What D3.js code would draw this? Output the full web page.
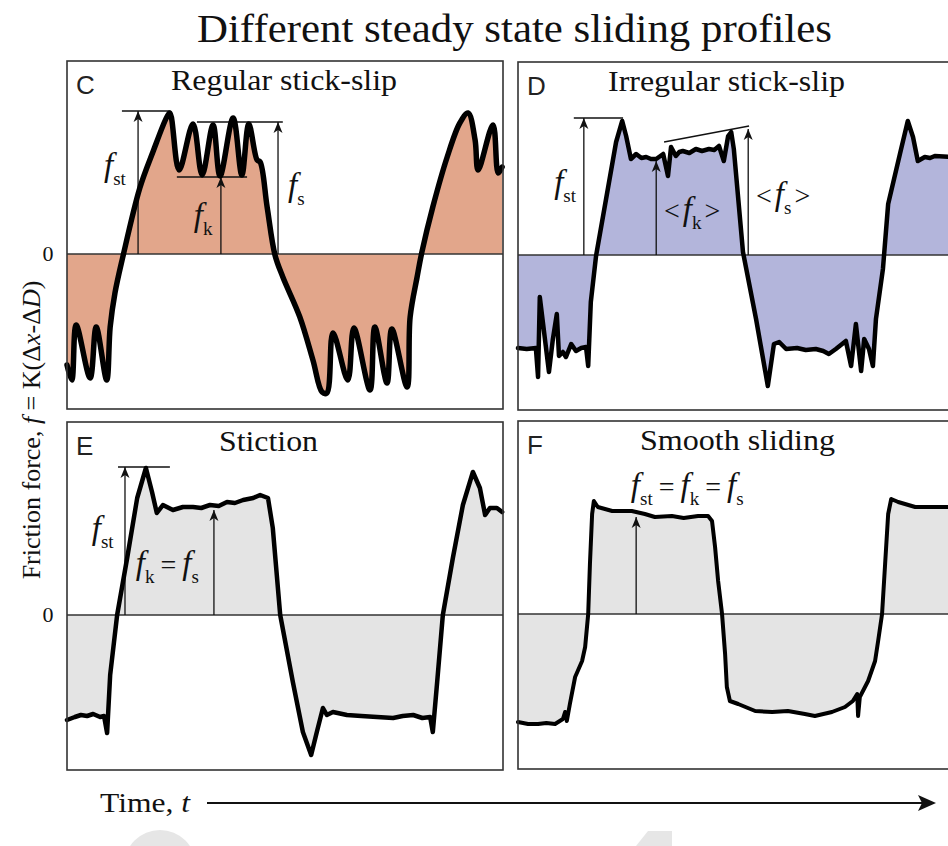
<!DOCTYPE html>
<html>
<head>
<meta charset="utf-8">
<script src="https://cdn.jsdelivr.net/npm/d3@7"></script>
<style>
body{margin:0;background:#fff}
svg{display:block}
</style>
</head>
<body>
<svg id="svg_main" width="948" height="846"></svg>
<script>
// time in arbitrary units (0..10 per panel), force in arbitrary units (0 = zero line)
var tC=[0,0.11,0.21,0.53,0.67,0.91,0.99,1.10,1.28,1.67,1.97,2.29,2.36,2.57,2.89,3.10,3.35,3.51,3.81,4.01,4.17,4.36,4.43,4.59,4.77,4.95,5.34,5.64,5.85,5.96,6.10,6.44,6.58,6.95,7.06,7.34,7.45,7.80,7.87,8.03,8.14,8.39,8.72,9.01,9.20,9.36,9.43,9.77,9.89,9.98]
var fC=[-1.11,-1.26,-0.71,-1.24,-0.73,-1.26,-0.73,-0.39,-0.03,0.66,1.02,1.37,1.41,0.84,1.30,0.79,1.29,0.78,1.36,0.79,1.30,0.94,0.92,0.47,-0.01,-0.23,-0.63,-1.06,-1.38,-1.39,-0.79,-1.26,-0.74,-1.36,-0.73,-1.29,-0.75,-1.33,-0.63,-0.23,0.02,0.47,0.97,1.31,1.41,1.14,0.84,1.29,0.81,0.87]

var tD=[0,0.20,0.41,0.46,0.50,0.71,0.80,0.89,0.94,1.03,1.10,1.22,1.33,1.45,1.56,1.61,1.67,1.79,2.02,2.25,2.39,2.48,2.59,2.71,2.83,2.94,3.05,3.17,3.33,3.39,3.44,3.51,3.62,3.70,3.78,3.93,4.08,4.22,4.38,4.50,4.61,4.72,4.82,4.89,4.95,5.16,5.46,5.73,5.87,5.99,6.15,6.40,6.60,6.83,7.00,7.13,7.29,7.52,7.64,7.75,7.87,7.94,8.05,8.14,8.21,8.37,8.49,8.76,8.94,9.06,9.17,9.33,9.45,9.56,10.0]
var fD=[-0.93,-0.94,-0.93,-1.22,-0.42,-1.17,-0.84,-0.59,-1.01,-0.97,-1.02,-0.89,-0.96,-0.93,-0.92,-1.11,-0.47,-0.01,0.56,1.13,1.34,1.19,0.96,1.01,0.97,0.98,0.96,0.96,1.01,0.89,0.79,1.08,0.99,1.03,1.04,1.02,1.06,1.04,1.06,1.05,1.09,0.94,1.19,1.23,1.06,0.03,-0.64,-1.31,-0.89,-0.87,-0.94,-0.93,-0.95,-0.94,-0.96,-0.99,-0.94,-0.86,-1.11,-0.69,-1.16,-0.84,-0.94,-1.11,-0.64,-0.14,0.51,1.01,1.34,1.18,0.94,0.98,0.97,0.99,0.98]

var tE=[0,0.18,0.32,0.46,0.60,0.76,0.85,0.92,0.99,1.15,1.38,1.61,1.81,1.95,2.06,2.20,2.43,2.66,2.89,3.08,3.28,3.48,3.67,3.85,4.04,4.27,4.43,4.61,4.72,4.89,5.18,5.41,5.60,5.73,5.87,5.96,6.10,6.42,6.75,7.11,7.48,7.70,7.94,8.15,8.33,8.39,8.49,8.62,8.85,9.08,9.31,9.47,9.59,9.70,9.86,9.98]
var fE=[-1.05,-1.02,-1.00,-1.01,-0.99,-1.02,-1.01,-1.18,-0.60,0,0.57,1.17,1.47,1.23,1.02,1.10,1.05,1.08,1.08,1.07,1.10,1.09,1.13,1.12,1.15,1.17,1.20,1.17,0.87,0,-0.67,-1.17,-1.40,-1.17,-0.93,-1.00,-0.97,-1.00,-1.01,-1.02,-1.03,-1.01,-1.00,-1.03,-1.02,-1.17,-0.67,0,0.57,1.10,1.43,1.27,1.00,1.07,1.07,1.03]

var tF=[0,0.23,0.46,0.65,0.85,1.03,1.08,1.12,1.19,1.31,1.47,1.54,1.61,1.65,1.70,1.74,1.83,2.16,2.61,2.91,3.14,3.53,3.80,4.13,4.36,4.45,4.52,4.59,4.68,4.75,4.79,4.86,5.05,5.44,5.83,6.19,6.58,6.81,7.20,7.50,7.68,7.78,7.80,7.84,8.03,8.19,8.26,8.35,8.42,8.49,8.56,8.72,9.11,9.50,10.0]
var fF=[-1.08,-1.10,-1.10,-1.09,-1.10,-1.05,-0.98,-1.07,-0.90,-0.63,-0.47,-0.33,0,0.50,1.00,1.13,1.07,1.03,1.03,1.00,0.97,0.98,0.96,0.98,0.98,0.93,0.67,0.33,0,-0.40,-0.73,-0.87,-0.90,-0.97,-0.98,-0.97,-1.00,-1.02,-0.98,-0.93,-0.87,-0.80,-1.02,-0.83,-0.67,-0.47,-0.27,0,0.50,1.00,1.15,1.12,1.07,1.07,1.07]

// annotation guides [t1,f1,t2,f2] and arrows [t,f] (arrow from 0 up to f)
var guideC=[[1.26,1.43,2.36,1.43],[2.52,0.77,4.13,0.77],[2.98,1.32,4.95,1.32]]
var arrowC=[[1.63,1.43],[3.53,0.77],[4.84,1.32]]
var guideD=[[1.28,1.37,2.41,1.37],[3.35,1.13,5.30,1.29]]
var arrowD=[[1.51,1.37],[3.17,0.94],[5.28,1.26]]
var guideE=[[1.17,1.48,2.36,1.48]]
var arrowE=[[1.33,1.48],[3.37,1.05]]
var guideF=[]
var arrowF=[[2.71,0.97]]

var titles=['Regular stick-slip','Irregular stick-slip','Stiction','Smooth sliding']
var letters=['C','D','E','F']

const serif='"Liberation Serif","Times New Roman",Times,serif';
const sans='"Liberation Sans",Arial,Helvetica,sans-serif';

// layout of each panel
const panels=[
  {t:tC,f:fC,guide:guideC,arrow:arrowC,x0:67,y0:61,fill:'#e2a68b',sw:5.5,curve:d3.curveCatmullRom.alpha(0.5),titleX:171,titleW:226,
   labels:[[0.78,0.78,[['f','f'],['st','s']]],[2.84,0.28,[['f','f'],['k','s']]],[5.0,0.58,[['f','f'],['s','s']]]]},
  {t:tD,f:fD,guide:guideD,arrow:arrowD,x0:518,y0:62,fill:'#b3b5db',sw:4.5,curve:d3.curveLinear,titleX:608,titleW:237,
   labels:[[0.76,0.62,[['f','f'],['st','s']]],[3.28,0.35,[['<','n'],['f','f'],['k','s'],['>','n']]],[5.39,0.50,[['<','n'],['f','f'],['s','s'],['>','n']]]]},
  {t:tE,f:fE,guide:guideE,arrow:arrowE,x0:67,y0:422,fill:'#e4e4e4',sw:4.5,curve:d3.curveLinear,titleX:219,titleW:99,
   labels:[[0.50,0.76,[['f','f'],['st','s']]],[1.51,0.41,[['f','f'],['k','s'],['=','n'],['f','f'],['s','s']]]]},
  {t:tF,f:fF,guide:guideF,arrow:arrowF,x0:518,y0:421,fill:'#e4e4e4',sw:4,curve:d3.curveLinear,titleX:640,titleW:195,
   labels:[[2.52,1.18,[['f','f'],['st','s'],['=','n'],['f','f'],['k','s'],['=','n'],['f','f'],['s','s']]]]}
];
const pw=436, ph=348;

var svg=d3.select('#svg_main');
svg.append('rect').attr('width',948).attr('height',846).attr('fill','#fff');

var defs=svg.append('defs');
defs.append('marker').attr('id','ah').attr('viewBox','-11 -5 11 10')
  .attr('refX',0).attr('refY',0).attr('markerWidth',11).attr('markerHeight',10)
  .attr('markerUnits','userSpaceOnUse').attr('orient','auto')
  .append('path').attr('d','M0,0L-11,-4.5L-8,0L-11,4.5Z').attr('fill','#111');

// faint watermark blobs at the bottom
svg.append('ellipse').attr('cx',160).attr('cy',866).attr('rx',36).attr('ry',36).attr('fill','#e6e6e6');
svg.append('path').attr('d','M648,831L672,831L672,846L636,846Z').attr('fill','#e6e6e6');

// main title
svg.append('text').attr('x',197).attr('y',42).attr('font-family',serif).attr('font-size',39)
  .attr('textLength',635).attr('lengthAdjust','spacingAndGlyphs').attr('fill','#111')
  .text('Different steady state sliding profiles');

function fLabel(g,x,y,parts){
  var txt=g.append('text').attr('x',x).attr('y',y).style('font-family',serif).attr('fill','#111');
  var sub=false, prev=null;
  parts.forEach(function(p){
    var ts=txt.append('tspan').style('font-family',serif).text(p[0]);
    if(p[1]=='s'){
      ts.style('font-size','19px').style('font-style','normal');
      if(!sub){ts.attr('dy',9);sub=true;}
    }else{
      if(sub){ts.attr('dy',-9);sub=false;}
      var gap=(p[0]=='='||prev=='=')?6:3;
      if(p[1]=='f') ts.style('font-style','italic').style('font-size','33px').attr('dx',gap);
      else ts.style('font-size','28px').style('font-style','normal').attr('dx',gap);
    }
    prev=p[0];
  });
}

panels.forEach(function(p,i){
  var x=d3.scaleLinear([0,10],[p.x0,p.x0+pw]);
  var y=d3.scaleLinear([-1.55,1.93],[p.y0+ph,p.y0]);
  var g=svg.append('g');
  var pts=p.t.map(function(d,j){return [d,p.f[j]]});

  g.append('path').datum(pts)
    .attr('d',d3.area().x(function(d){return x(d[0])}).y0(y(0)).y1(function(d){return y(d[1])}).curve(p.curve))
    .attr('fill',p.fill);

  // zero line
  g.append('line').attr('x1',p.x0).attr('x2',p.x0+pw).attr('y1',y(0)).attr('y2',y(0))
    .attr('stroke','#333').attr('stroke-width',1.5);

  // guides and arrows
  g.selectAll('.guide').data(p.guide).enter().append('line')
    .attr('x1',function(d){return x(d[0])}).attr('y1',function(d){return y(d[1])})
    .attr('x2',function(d){return x(d[2])}).attr('y2',function(d){return y(d[3])})
    .attr('stroke','#111').attr('stroke-width',1.3);
  g.selectAll('.arrow').data(p.arrow).enter().append('line')
    .attr('x1',function(d){return x(d[0])}).attr('y1',y(0))
    .attr('x2',function(d){return x(d[0])}).attr('y2',function(d){return y(d[1])})
    .attr('stroke','#111').attr('stroke-width',1.3).attr('marker-end','url(#ah)');

  // the trace
  g.append('path').datum(pts)
    .attr('d',d3.line().x(function(d){return x(d[0])}).y(function(d){return y(d[1])}).curve(p.curve))
    .attr('fill','none').attr('stroke','#000').attr('stroke-width',p.sw)
    .attr('stroke-linejoin','round').attr('stroke-linecap','round');

  p.labels.forEach(function(l){ fLabel(g,x(l[0]),y(l[1]),l[2]); });

  // frame
  g.append('rect').attr('x',p.x0).attr('y',p.y0).attr('width',pw).attr('height',ph)
    .attr('fill','none').attr('stroke','#333').attr('stroke-width',1.6);

  g.append('text').attr('x',p.x0+9).attr('y',p.y0+33).attr('font-family',sans).attr('font-size',26)
    .attr('fill','#222').text(letters[i]);
  g.append('text').attr('x',p.titleX).attr('y',p.y0+29).attr('font-family',serif).attr('font-size',29)
    .attr('textLength',p.titleW).attr('lengthAdjust','spacingAndGlyphs').attr('fill','#111').text(titles[i]);

  if(p.x0<100){
    svg.append('text').attr('x',48).attr('y',y(0)+7).attr('text-anchor','middle')
      .style('font-family',serif).attr('font-size',22).attr('fill','#111').text('0');
  }
});

// y axis title
var yl=svg.append('text').attr('transform','translate(40,430) rotate(-90)').attr('text-anchor','middle')
  .style('font-family',serif).attr('font-size',26).attr('fill','#111');
yl.append('tspan').style('font-family',serif).text('Friction force, ');
yl.append('tspan').style('font-family',serif).style('font-style','italic').text('f');
yl.append('tspan').style('font-family',serif).text(' = K(\u0394');
yl.append('tspan').style('font-family',serif).style('font-style','italic').text('x');
yl.append('tspan').style('font-family',serif).text('-\u0394');
yl.append('tspan').style('font-family',serif).style('font-style','italic').text('D');
yl.append('tspan').style('font-family',serif).text(')');

// time axis
var tl=svg.append('text').attr('x',100).attr('y',812).style('font-family',serif).attr('font-size',28)
  .attr('fill','#111').attr('textLength',90).attr('lengthAdjust','spacingAndGlyphs');
tl.append('tspan').text('Time, ');
tl.append('tspan').style('font-style','italic').text('t');
svg.append('line').attr('x1',207).attr('x2',922).attr('y1',803).attr('y2',803).attr('stroke','#111').attr('stroke-width',2);
svg.append('path').attr('d','M936,803L918,795L922,803L918,811Z').attr('fill','#111');
</script>
</body>
</html>
